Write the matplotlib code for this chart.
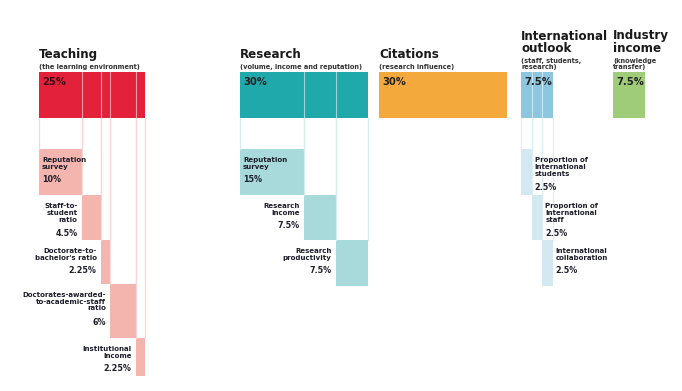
import matplotlib
matplotlib.use("Agg")
from matplotlib import pyplot as plt

# groups: title, subtitle, weight (%)
titles = ["Teaching", "Research", "Citations", "International\noutlook", "Industry\nincome"]
subtitles = ["(the learning environment)", "(volume, income and reputation)",
             "(research influence)", "(staff, students,\nresearch)", "(knowledge\ntransfer)"]
weights = [25, 30, 30, 7.5, 7.5]
weight_labels = ["25%", "30%", "30%", "7.5%", "7.5%"]

# breakdown of each pillar
teaching_parts = [10, 4.5, 2.25, 6, 2.25]
teaching_labels = ["Reputation\nsurvey", "Staff-to-\nstudent\nratio", "Doctorate-to-\nbachelor's ratio",
                   "Doctorates-awarded-\nto-academic-staff\nratio", "Institutional\nIncome"]
teaching_pct = ["10%", "4.5%", "2.25%", "6%", "2.25%"]

research_parts = [15, 7.5, 7.5]
research_labels = ["Reputation\nsurvey", "Research\nIncome", "Research\nproductivity"]
research_pct = ["15%", "7.5%", "7.5%"]

intl_parts = [2.5, 2.5, 2.5]
intl_labels = ["Proportion of\nInternational\nstudents", "Proportion of\nInternational\nstaff",
               "International\ncollaboration"]
intl_pct = ["2.5%", "2.5%", "2.5%"]

# layout (pixels)
UNIT = 4.25
lefts = [39, 240, 379, 521, 613]
colors = ["#E3213B", "#1FA9AB", "#F4A93D", "#8CC6DF", "#9ECC78"]
light = ["#F4B5AF", "#A9DADB", None, "#D2E9F2", None]
guide = ["#F6D9D6", "#D3EDED", None, "#DDEFF6", None]
TOP, BAR_H = 72, 46
title_y = [61, 61, 61, 55, 55]
sub_y = [70, 70, 70, 70, 70]

fig = plt.figure(figsize=(6.82, 3.91), dpi=100)
ax = fig.add_axes([0, 0, 1, 1])
ax.set_xlim(0, 682)
ax.set_ylim(391, 0)
ax.axis("off")

FONT = "DejaVu Sans"
DARK = "#1d1d2b"

for i in range(5):
    x0 = lefts[i]
    w = weights[i] * UNIT
    ax.bar(x0, BAR_H, width=w, bottom=TOP, align="edge", color=colors[i], lw=0)
    ax.text(x0, title_y[i], titles[i], fontsize=8.6, fontweight="heavy", family=FONT,
            color="#1a1a1a", va="bottom", ha="left", linespacing=0.95)
    ax.text(x0, sub_y[i], subtitles[i], fontsize=4.8, fontweight="bold", family=FONT,
            color="#333333", va="bottom", ha="left", linespacing=1.05)
    px = x0 + 3 if i < 3 else x0 + w / 2 + 1
    ax.text(px, TOP + 5, weight_labels[i], fontsize=7.2, fontweight="bold", family=FONT,
            color="#222222" if i else "#3a0d12", va="top",
            ha="left" if i < 3 else "center")


def breakdown(gi, parts, labels, pcts, heights, side):
    x0 = lefts[gi]
    edges = [x0]
    for p in parts:
        edges.append(edges[-1] + p * UNIT)
    # divider lines inside the main bar
    for e in edges[1:-1]:
        ax.plot([e, e], [TOP, TOP + BAR_H], color="white", lw=0.8, alpha=0.55)
    y = TOP + BAR_H + 31
    for k, p in enumerate(parts):
        xl, xr = edges[k], edges[k + 1]
        h = heights[k]
        # faint guide lines from main bar down to the sub bar
        for e in (xl, xr):
            ax.plot([e, e], [TOP + BAR_H, y], color=guide[gi], lw=0.9)
        ax.bar(xl, h, width=xr - xl, bottom=y, align="edge", color=light[gi], lw=0)
        nlines = labels[k].count("\n") + 1
        if side[k] == "in":
            tx, ha = xl + 3, "left"
        elif side[k] == "left":
            tx, ha = xl - 4, "right"
        else:
            tx, ha = xr + 3, "left"
        ax.text(tx, y + 8, labels[k], fontsize=5.0, fontweight="bold", family=FONT,
                color=DARK, va="top", ha=ha, linespacing=1.15)
        ax.text(tx, y + 10 + nlines * 8, pcts[k], fontsize=5.8, fontweight="bold",
                family=FONT, color=DARK, va="top", ha=ha)
        y += h


breakdown(0, teaching_parts, teaching_labels, teaching_pct, [46, 45, 44, 54, 38],
          ["in", "left", "left", "left", "left"])
breakdown(1, research_parts, research_labels, research_pct, [46, 45, 46],
          ["in", "left", "left"])
breakdown(3, intl_parts, intl_labels, intl_pct, [46, 45, 46],
          ["right", "right", "right"])

fig.savefig("out.png", dpi=100)
